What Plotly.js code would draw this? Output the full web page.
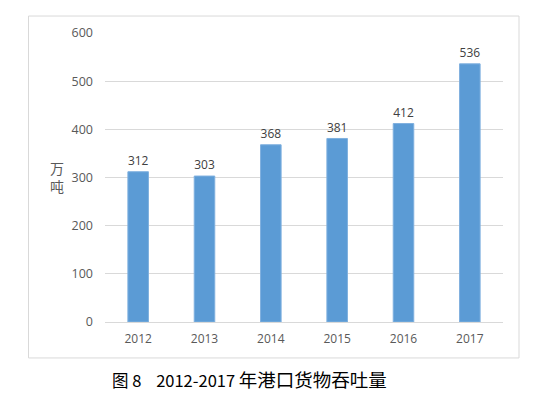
<!DOCTYPE html>
<html>
<head>
<meta charset="utf-8">
<script src="https://cdn.plot.ly/plotly-3.0.1.min.js"></script>
<style>html,body{margin:0;padding:0;background:#fff;}#chart{width:548px;height:398px;}</style>
</head>
<body>
<div id="chart"></div>
<script>
const years = ["2012", "2013", "2014", "2015", "2016", "2017"];
const throughput = [312, 303, 368, 381, 412, 536];
const yTicks = [0, 100, 200, 300, 400, 500, 600];
const titlePrefix = "图\u00a08\u00a0\u00a0\u00a0 2012-2017\u00a0";
const titleMain = "年港口货物吞吐量";
const yUnit = "万<br>吨";

const trace = {
  type: "bar",
  x: years,
  y: throughput,
  text: throughput.map(String),
  textposition: "outside",
  cliponaxis: false,
  textfont: {family: "Open Sans, Noto Sans CJK SC, sans-serif", size: 12.5, color: "#404040"},
  marker: {color: "#5B9BD5", line: {color: "#7FB0DF", width: 1}},
  width: 0.31,
  hoverinfo: "none"
};

const layout = {
  width: 548, height: 398,
  margin: {l: 105, r: 45, t: 32.5, b: 76, pad: 0},
  paper_bgcolor: "#ffffff",
  plot_bgcolor: "#ffffff",
  showlegend: false,
  font: {family: "Open Sans, Noto Sans CJK SC, sans-serif", color: "#595959", size: 12},
  xaxis: {
    type: "category",
    tickvals: years,
    ticktext: years,
    showgrid: false,
    showline: false,
    zeroline: false,
    ticks: "",
    ticklabelstandoff: 8,
    tickfont: {size: 12, color: "#595959"},
    fixedrange: true
  },
  yaxis: {
    range: [0, 600],
    tickvals: yTicks,
    ticktext: yTicks.map(String),
    showgrid: true,
    gridcolor: "#D9D9D9",
    gridwidth: 1,
    zeroline: true,
    zerolinecolor: "#D9D9D9",
    zerolinewidth: 1,
    showline: false,
    ticks: "",
    ticklabelstandoff: 11,
    tickfont: {size: 12.5, color: "#595959"},
    fixedrange: true
  },
  bargap: 0.69,
  shapes: [{
    type: "rect", xref: "paper", yref: "paper",
    x0: (28.5 - 105) / 398, x1: (519 - 105) / 398,
    y0: (322 - 358) / 289.5, y1: (322 - 15.5) / 289.5,
    line: {color: "#D9D9D9", width: 1}, fillcolor: "rgba(0,0,0,0)", layer: "below"
  }],
  annotations: [
    {
      text: yUnit, xref: "paper", yref: "paper",
      x: (57 - 105) / 398, y: (322 - 177) / 289.5,
      xanchor: "center", yanchor: "middle", showarrow: false,
      font: {family: "Noto Sans CJK SC, sans-serif", size: 14, color: "#595959"}
    },
    {
      text: titlePrefix + "<span style='font-size:18.5px'>" + titleMain + "</span>",
      xref: "paper", yref: "paper",
      x: (110 - 105) / 398, y: (322 - 379) / 289.5,
      xanchor: "left", yanchor: "middle", showarrow: false,
      font: {family: "Noto Sans CJK SC, sans-serif", size: 16.5, color: "#000000", weight: 400}
    }
  ]
};

Plotly.newPlot("chart", [trace], layout, {staticPlot: true, displayModeBar: false});
</script>
</body>
</html>
